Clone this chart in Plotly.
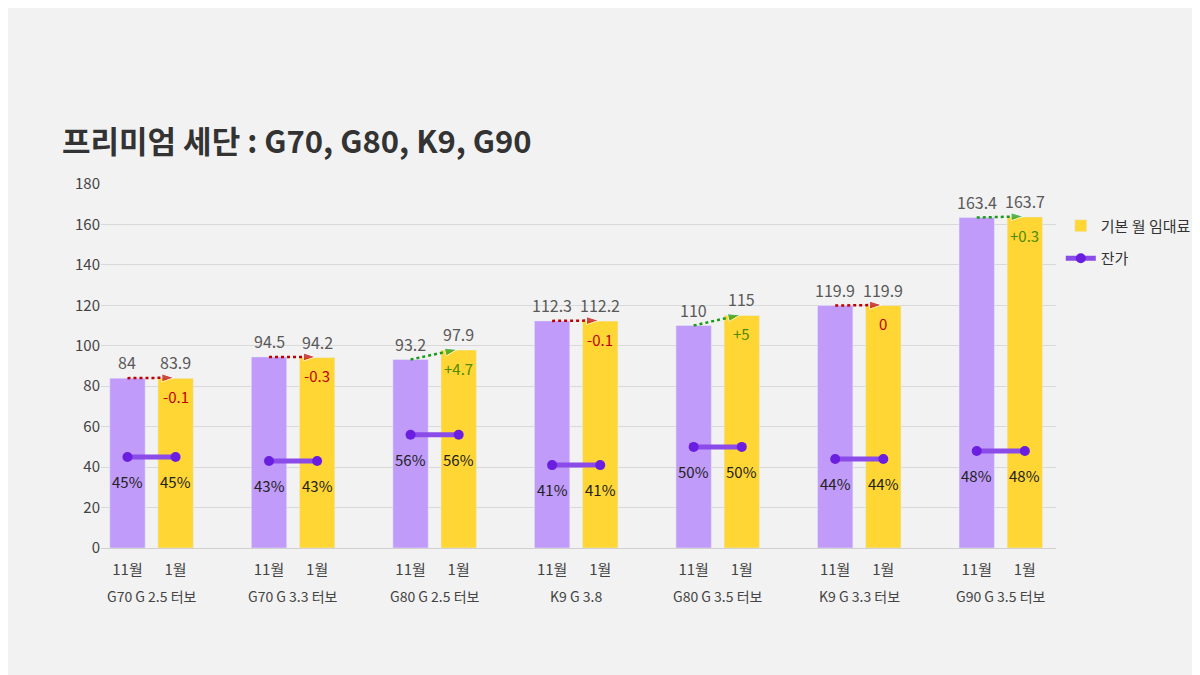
import plotly.graph_objects as go

groups = ["G70 G 2.5 터보", "G70 G 3.3 터보", "G80 G 2.5 터보", "K9 G 3.8", "G80 G 3.5 터보", "K9 G 3.3 터보", "G90 G 3.5 터보"]
nov = [84, 94.5, 93.2, 112.3, 110, 119.9, 163.4]
jan = [83.9, 94.2, 97.9, 112.2, 115, 119.9, 163.7]
resid = [45, 43, 56, 41, 50, 44, 48]
month_labels = ["11월", "1월"]

off = 0.17
bw = 0.25
xn = [i - off for i in range(len(groups))]
xj = [i + off for i in range(len(groups))]
FONT = "Noto Sans CJK KR"

fig = go.Figure()
fig.add_bar(x=xn, y=nov, width=bw, marker_color="#c09bfa", showlegend=False)
fig.add_bar(x=xj, y=jan, width=bw, marker_color="#ffd633", name="기본 월 임대료")

for i in range(len(groups)):
    for xx, v in ((xn[i], nov[i]), (xj[i], jan[i])):
        fig.add_annotation(x=xx, y=v, yshift=16, text=f"{v:g}", showarrow=False,
                           font=dict(color="#595959", size=16, family=FONT))
    d = round(jan[i] - nov[i], 1)
    col = "#1a9a1a" if d > 0 else "#c00000"
    fig.add_trace(go.Scatter(x=[xn[i], xj[i] - 0.01], y=[nov[i], jan[i] + 0.3], mode="lines+markers",
                             line=dict(color=col, dash="dot", width=2.5),
                             marker=dict(symbol="arrow", angleref="previous", size=[0, 13], color=col),
                             showlegend=False, hoverinfo="skip", cliponaxis=False))
    lbl = f"+{d:g}" if d > 0 else f"{d:g}"
    lcol = "#4d8a00" if d > 0 else "#c00000"
    fig.add_annotation(x=xj[i], y=jan[i] - 9, text=lbl, showarrow=False,
                       font=dict(color=lcol, size=15, family=FONT))
    fig.add_trace(go.Scatter(x=[xn[i], xj[i]], y=[resid[i], resid[i]], mode="lines+markers",
                             line=dict(color="#8a4be8", width=5),
                             marker=dict(color="#6a1ee0", size=10),
                             name="잔가", showlegend=(i == 0), legendgroup="r"))
    for xx in (xn[i], xj[i]):
        fig.add_annotation(x=xx, y=resid[i] - 12, text=f"{resid[i]}%", showarrow=False,
                           font=dict(color="#222", size=15, family=FONT))
    fig.add_annotation(x=i, y=-0.165, yref="paper", text=groups[i], showarrow=False,
                       font=dict(color="#444", size=14, family=FONT))

fig.update_layout(
    width=1200, height=675, paper_bgcolor="#f2f2f2", plot_bgcolor="#f2f2f2",
    margin=dict(l=93, r=142, t=176, b=135), barmode="overlay",
    font=dict(family=FONT, color="#444"),
    title=dict(text="<b>프리미엄 세단 : G70, G80, K9, G90</b>", x=0.045, xanchor="left", y=0.785,
               yanchor="bottom", font=dict(size=31, color="#333")),
    xaxis=dict(range=[-0.357, 6.39], tickvals=xn + xj,
               ticktext=[month_labels[0]] * 7 + [month_labels[1]] * 7,
               tickfont=dict(size=15, color="#444"), showgrid=False, zeroline=False,
               showline=True, linecolor="#d0d0d0", ticks="", ticklabelstandoff=8),
    yaxis=dict(range=[0, 180], dtick=20, gridcolor="#d9d9d9", tickfont=dict(size=15, color="#444"),
               zeroline=False),
    legend=dict(x=1.005, y=0.93, xanchor="left", yanchor="top", bgcolor="rgba(0,0,0,0)",
                font=dict(size=15, color="#333")),
)
fig.write_html("out.html")
